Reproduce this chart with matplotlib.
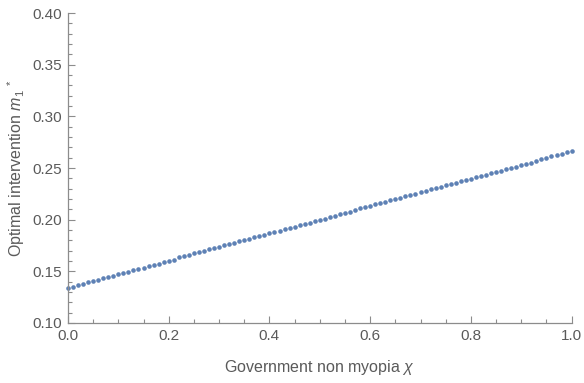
import numpy as np
import matplotlib
matplotlib.use("Agg")
import matplotlib.pyplot as plt
from matplotlib.ticker import MultipleLocator, FormatStrFormatter

# --- data ---
chi = np.linspace(0.0, 1.0, 101)
m1_star = [
    0.1340, 0.1353, 0.1366, 0.1379, 0.1392, 0.1405, 0.1418, 0.1431, 0.1444, 0.1457,
    0.1470, 0.1483, 0.1496, 0.1509, 0.1522, 0.1535, 0.1548, 0.1561, 0.1574, 0.1587,
    0.1600, 0.1613, 0.1634, 0.1647, 0.1660, 0.1673, 0.1686, 0.1699, 0.1712, 0.1725,
    0.1738, 0.1751, 0.1764, 0.1777, 0.1790, 0.1803, 0.1816, 0.1829, 0.1842, 0.1855,
    0.1868, 0.1881, 0.1894, 0.1907, 0.1920, 0.1933, 0.1946, 0.1959, 0.1972, 0.1985,
    0.1998, 0.2011, 0.2024, 0.2037, 0.2050, 0.2063, 0.2076, 0.2089, 0.2110, 0.2123,
    0.2136, 0.2149, 0.2162, 0.2175, 0.2188, 0.2201, 0.2214, 0.2227, 0.2240, 0.2253,
    0.2266, 0.2279, 0.2292, 0.2305, 0.2318, 0.2331, 0.2344, 0.2357, 0.2370, 0.2383,
    0.2396, 0.2409, 0.2422, 0.2435, 0.2448, 0.2461, 0.2474, 0.2487, 0.2500, 0.2513,
    0.2526, 0.2539, 0.2552, 0.2565, 0.2587, 0.2600, 0.2613, 0.2626, 0.2639, 0.2652,
    0.2665,
]

AXIS_GRAY = "#8c8c8c"
TEXT_GRAY = "#5a5a5a"
POINT_BLUE = "#5e81b5"

plt.rcParams["font.family"] = ["Liberation Sans", "DejaVu Sans"]
plt.rcParams["mathtext.fontset"] = "custom"
plt.rcParams["mathtext.it"] = "Liberation Sans:italic"
plt.rcParams["mathtext.rm"] = "Liberation Sans"

fig = plt.figure(figsize=(5.84, 3.83), dpi=100)
ax = fig.add_axes([0.1164, 0.1567, 0.8624, 0.8093])

ax.plot(chi, m1_star, "o", color=POINT_BLUE, ms=3.3, mew=0, clip_on=False)

ax.set_xlim(0, 1)
ax.set_ylim(0.10, 0.40)

for side in ("top", "right"):
    ax.spines[side].set_visible(False)
for side in ("left", "bottom"):
    ax.spines[side].set_color(AXIS_GRAY)
    ax.spines[side].set_linewidth(0.9)

ax.xaxis.set_major_locator(MultipleLocator(0.2))
ax.xaxis.set_minor_locator(MultipleLocator(0.05))
ax.yaxis.set_major_locator(MultipleLocator(0.05))
ax.yaxis.set_minor_locator(MultipleLocator(0.01))
ax.xaxis.set_major_formatter(FormatStrFormatter("%.1f"))
ax.yaxis.set_major_formatter(FormatStrFormatter("%.2f"))

ax.tick_params(which="both", direction="in", color=AXIS_GRAY, width=0.8,
               labelcolor=TEXT_GRAY, labelsize=11)
ax.tick_params(which="major", length=5, pad=4)
ax.tick_params(which="minor", length=2.8)

ax.set_xlabel(r"Government non myopia $\chi$", color=TEXT_GRAY, fontsize=11.5, labelpad=11)
ax.set_ylabel(r"Optimal intervention $m_1{}^{\,\,*}$", color=TEXT_GRAY, fontsize=11.5, labelpad=4)

fig.savefig("out.png", dpi=100)
